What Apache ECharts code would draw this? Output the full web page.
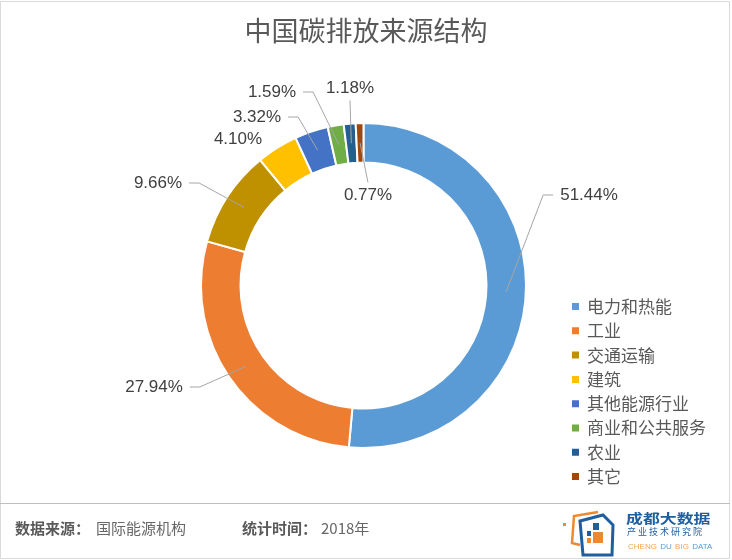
<!DOCTYPE html>
<html>
<head>
<meta charset="utf-8">
<script src="https://cdn.jsdelivr.net/npm/echarts@6/dist/echarts.min.js"></script>
<style>
  html, body { margin: 0; padding: 0; background: #fff; }
  #chart { width: 732px; height: 560px; }
</style>
</head>
<body>
<div id="chart"></div>
<script>
const categories = ['电力和热能', '工业', '交通运输', '建筑', '其他能源行业', '商业和公共服务', '农业', '其它'];
const shares = [51.44, 27.94, 9.66, 4.10, 3.32, 1.59, 1.18, 0.77];
const colors = ['#5b9bd5', '#ed7d31', '#bf9000', '#ffc000', '#4472c4', '#70ad47', '#255e91', '#9e480e'];

// where each % label sits (centre) and how its leader line runs
const labelSpots = [
  [589, 195, 'h'], [154, 387, 'h'], [158, 183, 'h'], [238, 139, 'none'],
  [257, 117, 'h'], [272, 92, 'h'], [350, 88, 'v'], [368, 195, 'v']
];

const CX = 363.5, CY = 285.5, R_IN = 123, R_OUT = 162.5;
const FONT = '"Liberation Sans", Arial, sans-serif';
const CJK = '"Noto Sans CJK SC", sans-serif';

const chart = echarts.init(document.getElementById('chart'));

const ringData = categories.map((name, i) => ({
  name: name,
  value: shares[i],
  itemStyle: { color: colors[i] }
}));

// transparent copy on top, only there so the leader lines are drawn over the ring
const labelData = categories.map((name, i) => ({
  name: name,
  value: shares[i],
  labelLine: { show: labelSpots[i][2] !== 'none' }
}));

const option = {
  animation: false,
  title: {
    text: '中国碳排放来源结构',
    left: 'center',
    top: 12,
    textStyle: { fontFamily: CJK, fontSize: 27, fontWeight: 'normal', color: '#595959' }
  },
  legend: {
    orient: 'vertical',
    left: 570,
    top: 298,
    padding: 0,
    icon: 'rect',
    itemWidth: 9,
    itemHeight: 9,
    itemGap: 7.3,
    data: categories,
    textStyle: { fontFamily: CJK, fontSize: 17, lineHeight: 17, color: '#595959', padding: [0, 0, 0, 2] }
  },
  series: [{
    type: 'pie',
    name: 'ring',
    center: [CX, CY],
    radius: [R_IN, R_OUT],
    startAngle: 90,
    z: 2,
    silent: true,
    itemStyle: { borderColor: '#fff', borderWidth: 2 },
    label: { show: false },
    labelLine: { show: false },
    data: ringData
  }, {
    type: 'pie',
    name: 'labels',
    center: [CX, CY],
    radius: [R_IN, R_OUT],
    startAngle: 90,
    z: 3,
    silent: true,
    avoidLabelOverlap: false,
    itemStyle: { color: 'rgba(0,0,0,0)', borderWidth: 0 },
    label: {
      show: true,
      position: 'outside',
      fontFamily: FONT,
      fontSize: 17,
      color: '#404040',
      formatter: p => p.value.toFixed(2) + '%'
    },
    labelLine: {
      show: true,
      length: 10,
      length2: 10,
      lineStyle: { color: '#a6a6a6', width: 1 }
    },
    labelLayout: function (p) {
      const s = labelSpots[p.dataIndex];
      const out = { x: s[0], y: s[1], align: 'center', verticalAlign: 'middle' };
      const pts = p.labelLinePoints;
      if (!pts || s[2] === 'none') return out;
      // pull the line start into the middle of the ring
      const k = (R_IN + R_OUT) / 2 / R_OUT;
      const st = [CX + (pts[0][0] - CX) * k, CY + (pts[0][1] - CY) * k];
      const w = p.labelRect.width, h = p.labelRect.height;
      if (s[2] === 'h') {
        const dir = st[0] > s[0] ? 1 : -1;
        const ex = s[0] + dir * (w / 2 + 7);
        out.labelLinePoints = [st, [ex + dir * 10, s[1]], [ex, s[1]]];
      } else {
        const dir = st[1] > s[1] ? 1 : -1;
        const ey = s[1] + dir * (h / 2 + 4);
        out.labelLinePoints = [st, [s[0], ey]];
      }
      return out;
    },
    emphasis: { disabled: true },
    data: labelData
  }],
  graphic: [
    { type: 'rect', silent: true, shape: { x: 0.5, y: 1.5, width: 729, height: 557 },
      style: { fill: 'none', stroke: '#d9d9d9', lineWidth: 1 } },
    { type: 'line', silent: true, shape: { x1: 0, y1: 503.5, x2: 730, y2: 503.5 },
      style: { stroke: '#bfbfbf', lineWidth: 1 } },
    { type: 'text', left: 15, top: 521,
      style: { text: '数据来源：', font: 'bold 15px ' + CJK, fill: '#595959' } },
    { type: 'text', left: 96, top: 521,
      style: { text: '国际能源机构', font: '15px ' + CJK, fill: '#666' } },
    { type: 'text', left: 242, top: 521,
      style: { text: '统计时间：', font: 'bold 15px ' + CJK, fill: '#595959' } },
    { type: 'text', left: 321, top: 521,
      style: { text: '2018年', font: '15px ' + CJK, fill: '#666' } },
    // logo
    { type: 'rect', shape: { x: 563, y: 523, width: 3, height: 3 }, style: { fill: '#ed8a2f' } },
    { type: 'polyline', shape: { points: [[598, 512], [574, 516], [572, 543], [580, 545]] },
      style: { stroke: '#ed8a2f', lineWidth: 2.5, fill: 'none' } },
    { type: 'polygon', shape: { points: [[580, 521], [603, 515], [613, 525], [612, 555], [583, 555]] },
      style: { stroke: '#1f5fa0', lineWidth: 3, fill: '#fff' } },
    { type: 'rect', shape: { x: 593, y: 523, width: 6, height: 7 }, style: { fill: '#1f5fa0' } },
    { type: 'rect', shape: { x: 587, y: 531, width: 4, height: 5 }, style: { fill: '#1f5fa0' } },
    { type: 'rect', shape: { x: 593, y: 532, width: 10, height: 11 }, style: { fill: '#ed8a2f' } },
    { type: 'rect', shape: { x: 587, y: 538, width: 4, height: 5 }, style: { fill: '#ed8a2f' } },
    { type: 'text', x: 626, y: 512, scaleX: 1.3,
      style: { text: '成都大数据', font: 'bold 13px ' + CJK, fill: '#1f5fa0' } },
    { type: 'text', x: 627, y: 527,
      style: { text: '产 业 技 术 研 究 院', font: '9px ' + CJK, fill: '#1f5fa0' } },
    { type: 'text', x: 628, y: 541,
      style: {
        text: '{o|CHENG} {b|DU} {o|BIG} {b|DATA}',
        rich: {
          o: { fontSize: 8, fontFamily: FONT, fill: '#f0a55a' },
          b: { fontSize: 8, fontFamily: FONT, fill: '#5b9bd5' }
        }
      } }
  ]
};

chart.setOption(option);
</script>
</body>
</html>
